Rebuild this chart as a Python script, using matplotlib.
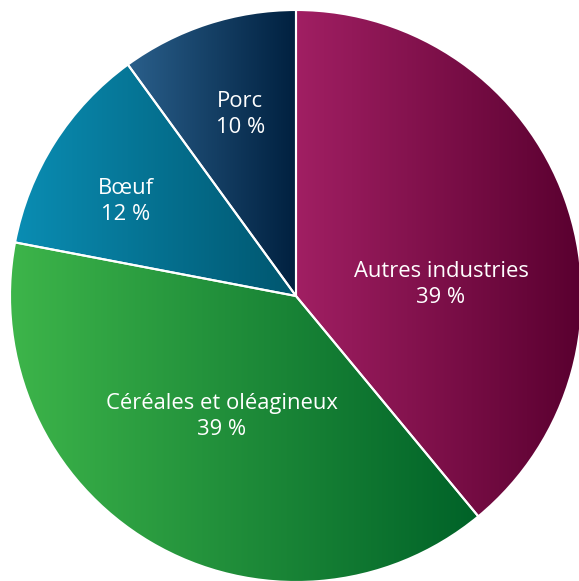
import numpy as np
import matplotlib.pyplot as plt
from matplotlib.colors import LinearSegmentedColormap

labels = ['Autres industries', 'Céréales et oléagineux', 'Bœuf', 'Porc']
shares = [39, 39, 12, 10]
pct_labels = ['39 %', '39 %', '12 %', '10 %']

# gradient couleurs (gauche -> droite) pour chaque secteur
grad_left = ['#a11f63', '#3db54a', '#0a8db3', '#2a5f8b']
grad_right = ['#59002f', '#006228', '#00566f', '#00203f']

# position du texte (en rayons, depuis le centre)
text_pos = [(0.507, 0.04), (-0.26, -0.42), (-0.595, 0.33), (-0.195, 0.635)]

W, H = 579, 581
cx, cy, R = 296, 296, 286

fig = plt.figure(figsize=(W / 100, H / 100), dpi=100)
ax = fig.add_axes([0, 0, 1, 1])

wedges, _ = ax.pie(shares, startangle=90, counterclock=False, radius=1,
                   wedgeprops=dict(edgecolor='white', linewidth=1.5))

for i, w in enumerate(wedges):
    w.set_facecolor('none')
    bb = w.get_path().get_extents(w.get_patch_transform())
    cmap = LinearSegmentedColormap.from_list('g%d' % i, [grad_left[i], grad_right[i]])
    grad = np.linspace(0, 1, 256).reshape(1, -1)
    im = ax.imshow(grad, cmap=cmap, aspect='auto', interpolation='bicubic',
                   extent=(bb.x0, bb.x1, bb.y0, bb.y1), zorder=0)
    im.set_clip_path(w)
    w.set_zorder(2)
    tx, ty = text_pos[i]
    ax.text(tx, ty, labels[i] + '\n' + pct_labels[i], ha='center', va='center',
            color='white', fontsize=15.8, family='Open Sans', linespacing=1.3, zorder=3)

ax.set_xlim(-cx / R, (W - cx) / R)
ax.set_ylim(-(H - cy) / R, cy / R)
ax.set_aspect('auto')
ax.axis('off')

fig.savefig('out.png', dpi=100)
